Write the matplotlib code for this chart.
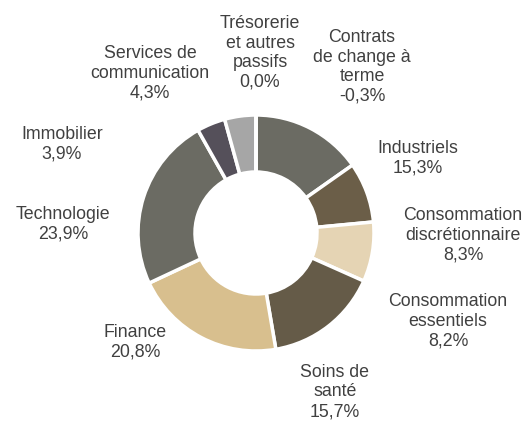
import matplotlib
matplotlib.use("Agg")
import matplotlib.pyplot as plt

plt.rcParams['font.family'] = ['Liberation Sans', 'DejaVu Sans']

# Data
sectors = ["Industriels", "Consommation\ndiscrétionnaire", "Consommation\nessentiels",
           "Soins de\nsanté", "Finance", "Technologie", "Immobilier",
           "Services de\ncommunication", "Trésorerie\net autres\npassifs",
           "Contrats\nde change à\nterme"]
values = [15.3, 8.3, 8.2, 15.7, 20.8, 23.9, 3.9, 4.3, 0.0, -0.3]
value_labels = ["15,3%", "8,3%", "8,2%", "15,7%", "20,8%", "23,9%", "3,9%", "4,3%", "0,0%", "-0,3%"]
colors = ["#6b6b63", "#6b5e48", "#e5d4b4", "#655b48", "#d8bf8e", "#6b6b63",
          "#55505a", "#a6a6a6", "#ffffff", "#ffffff"]

# Layout (pixel positions of label block centers)
W, H = 528, 424
label_pos = [(418, 158), (463, 235), (448, 321), (335, 392), (135, 342),
             (63, 224), (62, 144), (150, 73), (260, 53), (362, 67)]

fig = plt.figure(figsize=(W / 100, H / 100), dpi=100)
ax = fig.add_axes([0, 0, 1, 1])

pos_vals = [max(v, 0) for v in values]
ax.pie(pos_vals, colors=colors, startangle=90, counterclock=False,
       center=(256, H - 233), radius=118, frame=True,
       wedgeprops=dict(width=57, edgecolor='white', linewidth=2.5))
ax.set_xlim(0, W)
ax.set_ylim(0, H)
ax.set_aspect('equal')
ax.axis('off')

for name, vl, (x, y) in zip(sectors, value_labels, label_pos):
    txt = name + "\n" + vl
    ax.text(x, H - y, txt, ha='center', va='center', multialignment='center',
            fontsize=12.8, color='#404040', linespacing=1.2)

fig.savefig("out.png", dpi=100)
